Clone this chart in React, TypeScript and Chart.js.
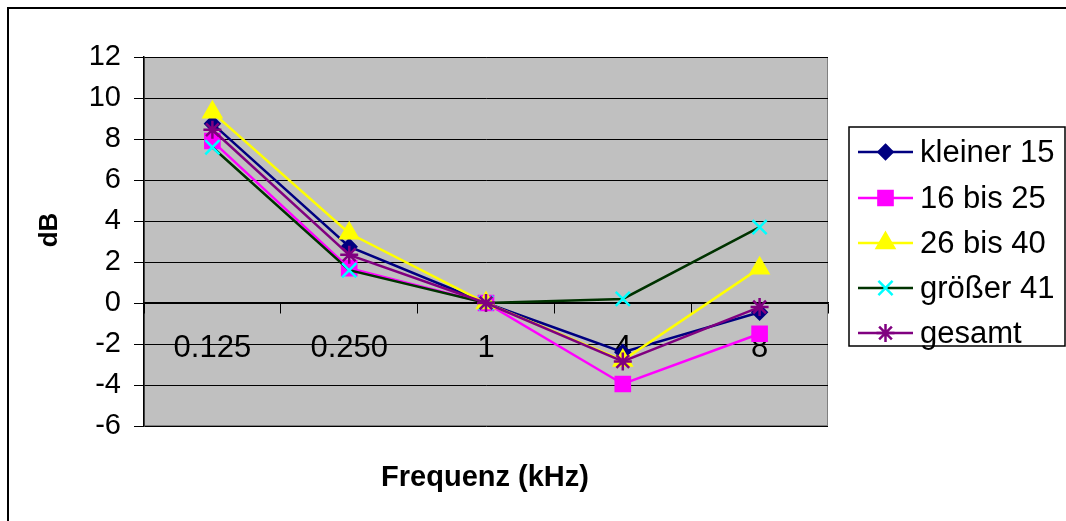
import React, { useEffect, useRef } from 'react';
import { Chart, registerables } from 'chart.js';

Chart.register(...registerables);

const categories = ['0.125', '0.250', '1', '4', '8'];
const kleiner15 = [8.75, 2.75, 0, -2.4, -0.45];
const bis25 = [7.9, 1.7, 0, -3.95, -1.5];
const bis40 = [9.3, 3.4, 0, -2.8, 1.7];
const groesser41 = [7.6, 1.6, 0, 0.2, 3.7];
const gesamt = [8.45, 2.35, 0, -2.85, -0.2];
const seriesNames = ['kleiner 15', '16 bis 25', '26 bis 40', 'größer 41', 'gesamt'];
const yMin = -6;
const yMax = 12;
const yStep = 2;
const yTitle = 'dB';
const xTitle = 'Frequenz (kHz)';

const FONT = '"Liberation Sans", Arial, sans-serif';

type Style = { line: string; fill: string; stroke: string; point: string; r: number };
const styles: Style[] = [
  { line: '#000080', fill: '#000080', stroke: '#000080', point: 'rectRot', r: 7 },
  { line: '#FF00FF', fill: '#FF00FF', stroke: '#FF00FF', point: 'rect', r: 10 },
  { line: '#FFFF00', fill: '#FFFF00', stroke: '#FFFF00', point: 'triangle', r: 10 },
  { line: '#003300', fill: '#00FFFF', stroke: '#00FFFF', point: 'crossRot', r: 10 },
  { line: '#800080', fill: '#800080', stroke: '#800080', point: 'star', r: 9 },
];

function drawMarker(ctx: CanvasRenderingContext2D, s: Style, x: number, y: number) {
  const r = s.r;
  ctx.save();
  ctx.fillStyle = s.fill;
  ctx.strokeStyle = s.stroke;
  ctx.lineWidth = 2.5;
  ctx.beginPath();
  if (s.point === 'rectRot') {
    ctx.moveTo(x, y - r); ctx.lineTo(x + r, y); ctx.lineTo(x, y + r); ctx.lineTo(x - r, y); ctx.closePath();
    ctx.fill(); ctx.stroke();
  } else if (s.point === 'rect') {
    const h = r * Math.SQRT1_2;
    ctx.rect(x - h, y - h, 2 * h, 2 * h); ctx.fill(); ctx.stroke();
  } else if (s.point === 'triangle') {
    const a0 = -Math.PI / 2;
    for (let i = 0; i < 3; i++) {
      const a = a0 + (i * 2 * Math.PI) / 3;
      const px = x + Math.cos(a) * r, py = y + Math.sin(a) * r;
      if (i === 0) ctx.moveTo(px, py); else ctx.lineTo(px, py);
    }
    ctx.closePath(); ctx.fill(); ctx.stroke();
  } else if (s.point === 'crossRot') {
    const h = r * Math.SQRT1_2;
    ctx.moveTo(x - h, y - h); ctx.lineTo(x + h, y + h);
    ctx.moveTo(x + h, y - h); ctx.lineTo(x - h, y + h);
    ctx.stroke();
  } else if (s.point === 'star') {
    const h = r * Math.SQRT1_2;
    ctx.moveTo(x - h, y - h); ctx.lineTo(x + h, y + h);
    ctx.moveTo(x + h, y - h); ctx.lineTo(x - h, y + h);
    ctx.moveTo(x, y - r); ctx.lineTo(x, y + r);
    ctx.moveTo(x - r, y); ctx.lineTo(x + r, y);
    ctx.stroke();
  }
  ctx.restore();
}

const decor = {
  id: 'decor',
  beforeDraw(chart: any) {
    const { ctx, chartArea: a } = chart;
    ctx.save();
    ctx.fillStyle = '#ffffff';
    ctx.fillRect(0, 0, chart.width, chart.height);
    ctx.fillStyle = '#C0C0C0';
    ctx.fillRect(a.left, a.top, a.right - a.left, a.bottom - a.top);
    ctx.strokeStyle = '#808080';
    ctx.lineWidth = 1;
    ctx.strokeRect(a.left + 0.5, a.top + 0.5, a.right - a.left - 1, a.bottom - a.top - 1);
    ctx.restore();
  },
  afterDraw(chart: any) {
    const { ctx } = chart;
    ctx.save();
    // outer border
    ctx.strokeStyle = '#000000';
    ctx.lineWidth = 2;
    ctx.strokeRect(8, 8, 1100, 560);
    // titles
    ctx.fillStyle = '#000000';
    ctx.font = `bold 29px ${FONT}`;
    ctx.textAlign = 'center';
    ctx.textBaseline = 'middle';
    ctx.fillText(xTitle, 485, 478);
    ctx.save();
    ctx.translate(50, 230);
    ctx.rotate(-Math.PI / 2);
    ctx.font = `bold 26px ${FONT}`;
    ctx.fillText(yTitle, 0, 0);
    ctx.restore();
    // legend
    const lx = 849, ly = 127, lw = 216, lh = 219;
    ctx.lineWidth = 1.5;
    ctx.strokeStyle = '#000000';
    ctx.strokeRect(lx, ly, lw, lh);
    const rows = [152, 198, 243, 288, 333];
    chart.data.datasets.forEach((ds: any, i: number) => {
      const s = styles[i];
      const y = rows[i];
      ctx.beginPath();
      ctx.strokeStyle = s.line;
      ctx.lineWidth = 2.5;
      ctx.moveTo(858, y);
      ctx.lineTo(913, y);
      ctx.stroke();
      drawMarker(ctx, s, 885.5, y);
      ctx.fillStyle = '#000000';
      ctx.font = `31px ${FONT}`;
      ctx.textAlign = 'left';
      ctx.textBaseline = 'middle';
      ctx.fillText(ds.label, 920, y + 1);
    });
    ctx.restore();
  },
};

export default function App() {
  const ref = useRef<HTMLCanvasElement | null>(null);
  useEffect(() => {
    const canvas = ref.current;
    if (!canvas) return;
    const seriesData = [kleiner15, bis25, bis40, groesser41, gesamt];
    const chart = new Chart(canvas, {
      type: 'line',
      data: {
        labels: categories,
        datasets: seriesData.map((d, i) => ({
          label: seriesNames[i],
          data: d,
          borderColor: styles[i].line,
          backgroundColor: styles[i].fill,
          pointBackgroundColor: styles[i].fill,
          pointBorderColor: styles[i].stroke,
          pointBorderWidth: 2.5,
          pointStyle: styles[i].point as any,
          pointRadius: styles[i].r,
          borderWidth: 2.5,
          tension: 0,
          fill: false,
          order: 5 - i,
        })),
      },
      options: {
        animation: false,
        responsive: false,
        devicePixelRatio: 1,
        layout: { padding: { left: 0, top: 57, right: 238, bottom: 95 } },
        plugins: { legend: { display: false }, tooltip: { enabled: false }, title: { display: false } },
        scales: {
          x: {
            type: 'category',
            position: { y: 0 } as any,
            offset: true,
            grid: { offset: true, drawOnChartArea: false, drawTicks: true, tickLength: 10, color: '#000000', lineWidth: 1 },
            border: { color: '#000000', width: 1.5 },
            ticks: { color: '#000000', font: { family: FONT, size: 31 }, padding: 17, autoSkip: false, maxRotation: 0 },
          },
          y: {
            min: yMin,
            max: yMax,
            afterFit: (scale: any) => { scale.width = 144; },
            grid: { color: '#000000', lineWidth: 1, drawTicks: true, tickLength: 10 },
            border: { color: '#000000', width: 1.5 },
            ticks: { stepSize: yStep, color: '#000000', font: { family: FONT, size: 29 }, padding: 13 },
          },
        },
      },
      plugins: [decor],
    });
    return () => chart.destroy();
  }, []);
  return (
    <div style={{ position: 'absolute', left: 0, top: 0, width: 1066, height: 521 }}>
      <canvas ref={ref} width={1066} height={521} />
    </div>
  );
}
